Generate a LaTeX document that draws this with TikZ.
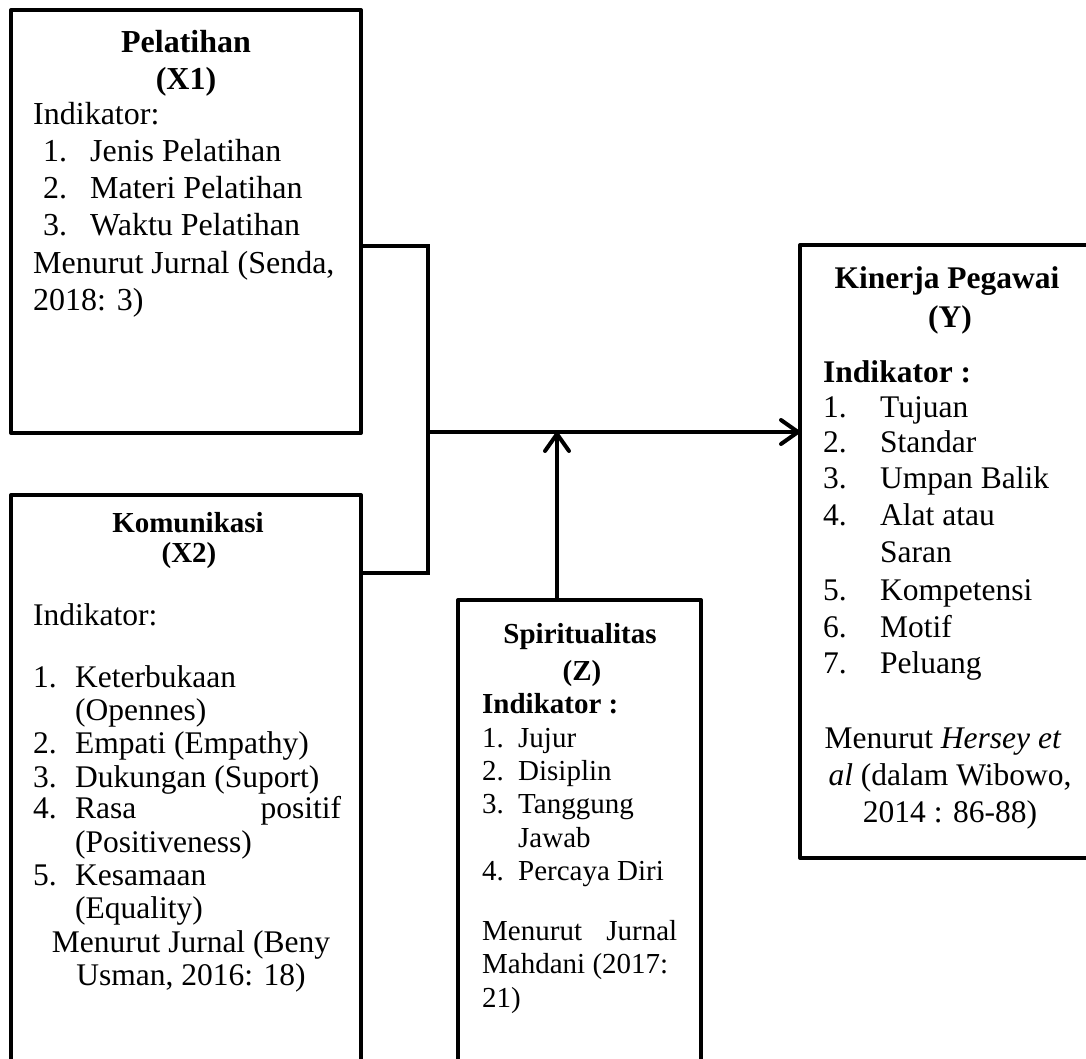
\documentclass[tikz,border=0pt]{standalone}
\usepackage{fontspec}
\setmainfont{Liberation Serif}
\usetikzlibrary{arrows.meta,calc}
\tikzset{
  box/.style={draw, line width=4pt, line join=round, inner sep=0pt, outer sep=0pt},
  conn/.style={line width=4pt, line join=miter},
  arr/.style={line width=4pt, -{Straight Barb[length=17pt,width=24pt,line cap=round,line join=round]}},
  txt/.style={inner sep=0pt, anchor=base west},
  ctr/.style={inner sep=0pt, anchor=base},
  fA/.style={font=\fontsize{32}{36}\selectfont},
  fAb/.style={font=\fontsize{32}{36}\selectfont\bfseries},
  fB/.style={font=\fontsize{31.5}{36}\selectfont},
  fBb/.style={font=\fontsize{31.5}{36}\selectfont\bfseries},
  fT/.style={font=\fontsize{29}{33}\selectfont\bfseries},
  fZ/.style={font=\fontsize{29}{33}\selectfont},
}
\begin{document}
\begin{tikzpicture}[x=1pt,y=-1pt]
\useasboundingbox (0,0) rectangle (1086,1059);
\clip (0,0) rectangle (1086,1059);

% boxes
\node[box, minimum width=350pt, minimum height=423pt] (x1) at (186,221.5) {};
\node[box, minimum width=350pt, minimum height=580pt] (x2) at (186,785) {};
\node[box, minimum width=243pt, minimum height=475pt] (z) at (579.5,837.5) {};
\node[box, minimum width=288pt, minimum height=613pt] (y) at (944,551.5) {};

% connectors
\coordinate (jn) at (428,432);
\draw[conn] ([yshift=-236pt]x1.north east) -| (jn) |- ([yshift=-78pt]x2.north east);
\draw[arr] (jn) -- (jn -| y.west);
\coordinate (zs) at ([xshift=99pt]z.north west);
\draw[arr] (zs) -- (zs |- jn);

% X1 text
\node[ctr, fAb] (x1a) at (186,53) {Pelatihan};
\node[ctr, fAb] (x1b) at (186,90) {(X1)};
\node[txt, fA] (x1c) at (33,125) {Indikator:};
\node[txt, fA] (x1d) at (43,162) {\makebox[47pt][l]{1.}Jenis Pelatihan};
\node[txt, fA] (x1e) at (43,199) {\makebox[47pt][l]{2.}Materi Pelatihan};
\node[txt, fA] (x1f) at (43,236) {\makebox[47pt][l]{3.}Waktu Pelatihan};
\node[txt, fA] (x1g) at (33,273) {Menurut Jurnal (Senda,};
\node[txt, fA] (x1h) at (33,310) {2018: 3)};

% X2 text
\node[ctr, fT] (x2a) at (188,532) {Komunikasi};
\node[ctr, fT] (x2b) at (189,562) {(X2)};
\node[txt, fB] (x2c) at (33,625) {Indikator:};
\node[txt, fB] (x2d) at (33,687) {\makebox[42pt][l]{1.}Keterbukaan};
\node[txt, fB] (x2e) at (75,720) {(Opennes)};
\node[txt, fB] (x2f) at (33,753) {\makebox[42pt][l]{2.}Empati (Empathy)};
\node[txt, fB] (x2g) at (33,787) {\makebox[42pt][l]{3.}Dukungan (Suport)};
\node[txt, fB] (x2h) at (33,818) {\makebox[42pt][l]{4.}\makebox[266pt]{Rasa\hfill positif}};
\node[txt, fB] (x2i) at (75,852) {(Positiveness)};
\node[txt, fB] (x2j) at (33,885) {\makebox[42pt][l]{5.}Kesamaan};
\node[txt, fB] (x2k) at (75,918) {(Equality)};
\node[ctr, fB] (x2l) at (191,952) {Menurut Jurnal (Beny};
\node[ctr, fB] (x2m) at (191,985) {Usman, 2016: 18)};

% Z text
\node[ctr, fT] (za) at (580,643) {Spiritualitas};
\node[ctr, fT] (zb) at (582,680) {(Z)};
\node[txt, fT] (zc) at (482,713) {Indikator :};
\node[txt, fZ] (zd) at (482,747) {\makebox[36pt][l]{1.}Jujur};
\node[txt, fZ] (ze) at (482,780) {\makebox[36pt][l]{2.}Disiplin};
\node[txt, fZ] (zf) at (482,813) {\makebox[36pt][l]{3.}Tanggung};
\node[txt, fZ] (zg) at (518,847) {Jawab};
\node[txt, fZ] (zh) at (482,880) {\makebox[36pt][l]{4.}Percaya Diri};
\node[txt, fZ] (zi) at (482,940) {\makebox[195pt]{Menurut\hfill Jurnal}};
\node[txt, fZ] (zj) at (482,973) {Mahdani (2017:};
\node[txt, fZ] (zk) at (482,1007) {21)};

% Y text
\node[ctr, fBb] (ya) at (947,288) {Kinerja Pegawai};
\node[ctr, fBb] (yb) at (950,327) {(Y)};
\node[txt, fBb] (yc) at (823,382) {Indikator :};
\node[txt, fB] (yd) at (823,417) {\makebox[57pt][l]{1.}Tujuan};
\node[txt, fB] (ye) at (823,452) {\makebox[57pt][l]{2.}Standar};
\node[txt, fB] (yf) at (823,488) {\makebox[57pt][l]{3.}Umpan Balik};
\node[txt, fB] (yg) at (823,525) {\makebox[57pt][l]{4.}Alat atau};
\node[txt, fB] (yh) at (880,562) {Saran};
\node[txt, fB] (yi) at (823,600) {\makebox[57pt][l]{5.}Kompetensi};
\node[txt, fB] (yj) at (823,637) {\makebox[57pt][l]{6.}Motif};
\node[txt, fB] (yk) at (823,673) {\makebox[57pt][l]{7.}Peluang};
\node[ctr, fB] (yl) at (943,748) {Menurut \textit{Hersey et}};
\node[ctr, fB] (ym) at (950,785) {\textit{al} (dalam Wibowo,};
\node[ctr, fB] (yn) at (950,822) {2014 : 86-88)};
\end{tikzpicture}
\end{document}
